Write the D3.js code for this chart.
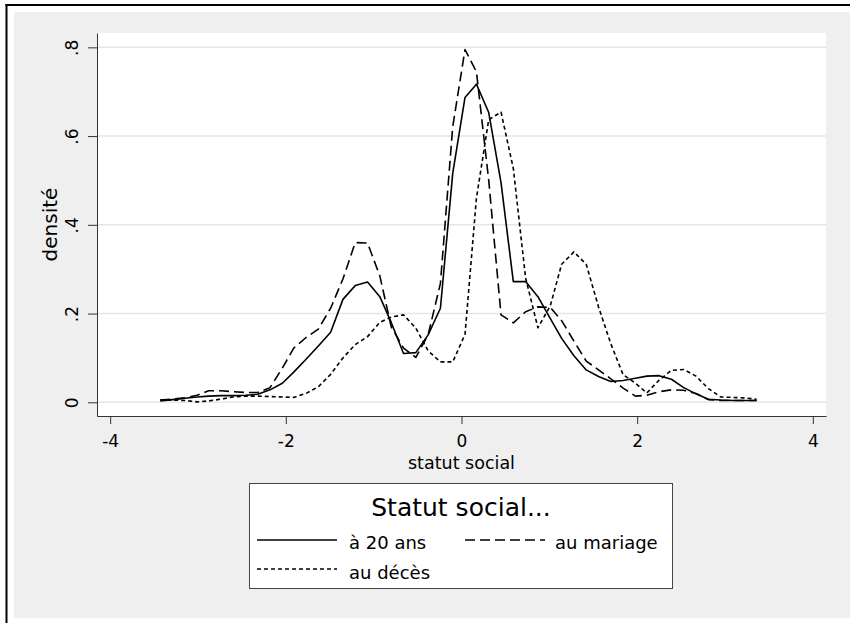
<!DOCTYPE html>
<html>
<head>
<meta charset="utf-8">
<script src="https://cdn.jsdelivr.net/npm/d3@7"></script>
<style>
  html, body { margin: 0; padding: 0; background: #ffffff; }
  svg { display: block; }
  text { font-family: "DejaVu Sans", "Liberation Sans", Arial, sans-serif; fill: #000; }
</style>
</head>
<body>
<svg id="chart" width="850" height="623"></svg>
<script>
// ---- data ----
const xValues = [-3.43, -3.29, -3.15, -3.01, -2.88, -2.74, -2.60, -2.46, -2.32, -2.18,
                 -2.04, -1.91, -1.77, -1.63, -1.49, -1.35, -1.21, -1.07, -0.93, -0.80,
                 -0.66, -0.52, -0.38, -0.24, -0.10, 0.04, 0.17, 0.31, 0.45, 0.59,
                 0.73, 0.87, 1.01, 1.14, 1.28, 1.42, 1.56, 1.70, 1.84, 1.98,
                 2.11, 2.25, 2.39, 2.53, 2.67, 2.81, 2.95, 3.09, 3.22, 3.36];

const a20ans = [0.003, 0.006, 0.009, 0.012, 0.014, 0.015, 0.015, 0.016, 0.018, 0.028,
                0.043, 0.068, 0.097, 0.127, 0.158, 0.232, 0.263, 0.271, 0.238, 0.180,
                0.110, 0.112, 0.152, 0.212, 0.516, 0.687, 0.717, 0.653, 0.495, 0.272,
                0.272, 0.238, 0.189, 0.144, 0.105, 0.073, 0.058, 0.047, 0.049, 0.054,
                0.059, 0.060, 0.052, 0.033, 0.019, 0.007, 0.005, 0.004, 0.004, 0.004];

const auMariage = [0.005, 0.007, 0.010, 0.016, 0.026, 0.026, 0.024, 0.022, 0.022, 0.033,
                   0.077, 0.122, 0.146, 0.165, 0.212, 0.278, 0.360, 0.359, 0.285, 0.170,
                   0.122, 0.101, 0.152, 0.268, 0.621, 0.795, 0.745, 0.500, 0.197, 0.179,
                   0.204, 0.215, 0.214, 0.184, 0.138, 0.093, 0.073, 0.053, 0.032, 0.014,
                   0.016, 0.024, 0.028, 0.027, 0.020, 0.006, 0.004, 0.004, 0.004, 0.004];

const auDeces = [0.005, 0.005, 0.004, 0.001, 0.003, 0.007, 0.012, 0.014, 0.014, 0.013,
                 0.012, 0.011, 0.020, 0.035, 0.063, 0.100, 0.130, 0.148, 0.180, 0.192,
                 0.197, 0.167, 0.116, 0.091, 0.091, 0.153, 0.460, 0.637, 0.654, 0.527,
                 0.280, 0.168, 0.217, 0.311, 0.339, 0.311, 0.215, 0.132, 0.062, 0.043,
                 0.021, 0.050, 0.072, 0.074, 0.059, 0.031, 0.012, 0.011, 0.010, 0.007];

const xTicks = [-4, -2, 0, 2, 4];
const yTicks = [0, 0.2, 0.4, 0.6, 0.8];
const yTickLabels = ["0", ".2", ".4", ".6", ".8"];
const seriesNames = ["à 20 ans", "au mariage", "au décès"];
const legendTitle = "Statut social...";
const xTitle = "statut social";
const yTitle = "densité";

// ---- layout ----
const svg = d3.select("#chart");
const plot = { left: 97, right: 826, top: 33, bottom: 416 };

// outer frame
svg.append("rect").attr("x", 14).attr("y", 12).attr("width", 836).attr("height", 606)
  .attr("fill", "#efefef");
svg.append("line").attr("x1", 6.5).attr("x2", 6.5).attr("y1", 4).attr("y2", 623)
  .attr("stroke", "#000").attr("stroke-width", 2);
svg.append("line").attr("x1", 5.5).attr("x2", 850).attr("y1", 5).attr("y2", 5)
  .attr("stroke", "#000").attr("stroke-width", 2);

// plot region
svg.append("rect").attr("x", plot.left).attr("y", plot.top)
  .attr("width", plot.right - plot.left).attr("height", plot.bottom - plot.top)
  .attr("fill", "#ffffff");

const x = d3.scaleLinear().domain([-4.15, 4.15]).range([plot.left, plot.right]);
const y = d3.scaleLinear().domain([-0.0309, 0.8323]).range([plot.bottom, plot.top]);

// gridlines
svg.append("g").selectAll("line").data(yTicks).join("line")
  .attr("x1", plot.left).attr("x2", plot.right)
  .attr("y1", d => y(d)).attr("y2", d => y(d))
  .attr("stroke", "#e6e6e6").attr("stroke-width", 1.5);

// axes
const xAxis = svg.append("g").attr("transform", `translate(0,${plot.bottom})`)
  .call(d3.axisBottom(x).tickValues(xTicks).tickSize(8).tickSizeOuter(0)
    .tickFormat(d => String(d)));
xAxis.selectAll("path, line").attr("stroke", "#333").attr("stroke-width", 1);
xAxis.selectAll("text").attr("y", 31).attr("dy", 0)
  .style("font-size", "17px").style("font-family", '"DejaVu Sans", sans-serif').attr("fill", "#000");

const yAxis = svg.append("g").attr("transform", `translate(${plot.left},0)`)
  .call(d3.axisLeft(y).tickValues(yTicks).tickSize(9).tickSizeOuter(0)
    .tickFormat((d, i) => yTickLabels[i]));
yAxis.selectAll("path, line").attr("stroke", "#333").attr("stroke-width", 1);
yAxis.selectAll("text").attr("transform", "rotate(-90)")
  .attr("x", 0).attr("y", -19).attr("dy", 0).attr("text-anchor", "middle")
  .style("font-size", "17px").style("font-family", '"DejaVu Sans", sans-serif').attr("fill", "#000");

// axis titles
svg.append("text").attr("x", x(0)).attr("y", 469).attr("text-anchor", "middle")
  .style("font-size", "17.5px").text(xTitle);
svg.append("text").attr("transform", `translate(57,${(plot.top + plot.bottom) / 2}) rotate(-90)`)
  .attr("text-anchor", "middle").style("font-size", "20px").text(yTitle);

// lines
const styles = [
  { data: a20ans, dash: null },
  { data: auMariage, dash: "10,5" },
  { data: auDeces, dash: "4,3" }
];
const lineGen = d3.line().x((d, i) => x(xValues[i])).y(d => y(d));
const lines = svg.append("g");
styles.forEach(s => {
  lines.append("path").datum(s.data)
    .attr("d", lineGen)
    .attr("fill", "none").attr("stroke", "#000").attr("stroke-width", 1.6)
    .attr("stroke-linejoin", "round")
    .attr("stroke-dasharray", s.dash);
});

// legend
const lg = svg.append("g");
lg.append("rect").attr("x", 249.5).attr("y", 483.5).attr("width", 423).attr("height", 105)
  .attr("fill", "#fff").attr("stroke", "#444").attr("stroke-width", 1);
lg.append("text").attr("x", 461).attr("y", 516).attr("text-anchor", "middle")
  .style("font-size", "25px").text(legendTitle);
const legItems = [
  { x1: 257, x2: 337, y: 540, tx: 349, ty: 549, dash: null, label: seriesNames[0] },
  { x1: 465, x2: 545, y: 540, tx: 555, ty: 549, dash: "10,5", label: seriesNames[1] },
  { x1: 257, x2: 337, y: 569, tx: 349, ty: 579, dash: "4,3", label: seriesNames[2] }
];
legItems.forEach(it => {
  lg.append("line").attr("x1", it.x1).attr("x2", it.x2).attr("y1", it.y).attr("y2", it.y)
    .attr("stroke", "#000").attr("stroke-width", 1.6).attr("stroke-dasharray", it.dash);
  lg.append("text").attr("x", it.tx).attr("y", it.ty).style("font-size", "18px").text(it.label);
});
</script>
</body>
</html>
